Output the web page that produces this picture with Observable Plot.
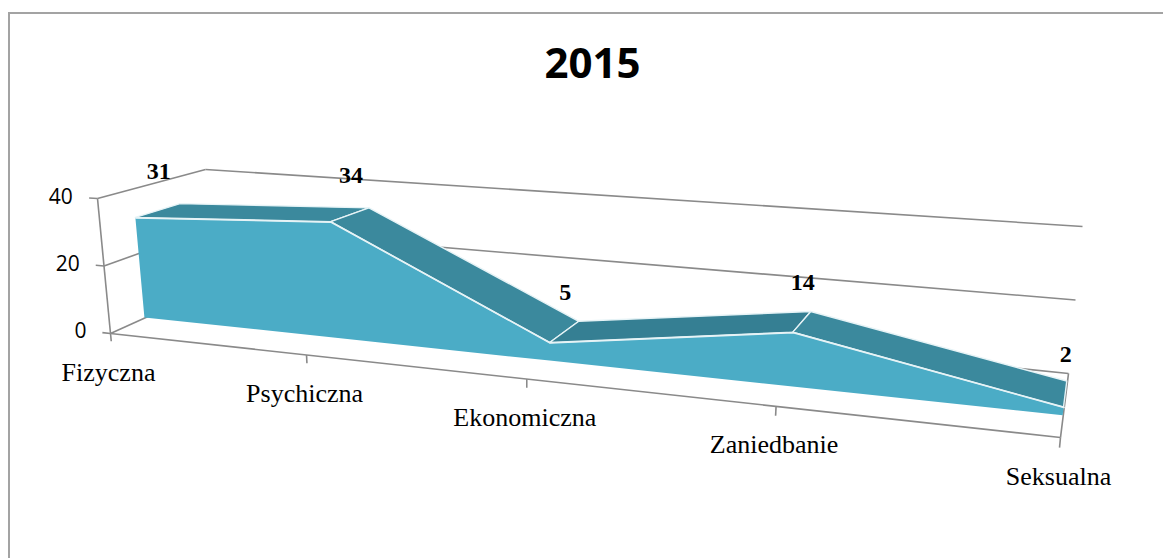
<!DOCTYPE html>
<html><head><meta charset="utf-8">
<script src="https://cdn.jsdelivr.net/npm/d3@7"></script>
<script src="https://cdn.jsdelivr.net/npm/@observablehq/plot@0.6"></script>
<style>
html,body{margin:0;padding:0;background:#fff;overflow:hidden;}
#wrap{position:relative;width:1163px;height:558px;overflow:hidden;}
#frame{position:absolute;left:8px;top:12px;width:1300px;height:700px;border-top:2px solid #a3a3a3;border-left:2px solid #a3a3a3;}
#chart{position:absolute;left:0;top:0;}
#title{position:absolute;left:0;top:41px;width:1185px;text-align:center;font:bold 42px "Open Sans";line-height:42px;color:#000;}
</style></head><body>
<div id="wrap"><div id="frame"></div><div id="chart"></div><div id="title"></div></div>
<script>
// ---- data ----
const title = "2015";
const categories = ["Fizyczna", "Psychiczna", "Ekonomiczna", "Zaniedbanie", "Seksualna"];
const values = [31, 34, 5, 14, 2];
const yTicks = [0, 20, 40];
const yMax = 40;

// ---- scales (library) ----
const uScale = Plot.scale({x: {type: "point", domain: categories, range: [0, 1], padding: 0}});
const vScale = Plot.scale({y: {type: "linear", domain: [0, yMax], range: [0, 1]}});

// ---- 3D perspective of the plot box (a: categories, b: values, c: depth) ----
const box = {
  "000": [110, 333], "010": [97, 198], "001": [214, 286], "011": [205, 169],
  "100": [1060, 437], "110": [1077, 262], "101": [1068, 373], "111": [1082, 226]
};
const depthZ = {"00": 1, "01": 1.154, "10": 0.78, "11": 0.934};
function P(a, b, c) {
  let nx = 0, ny = 0, d = 0;
  for (const i of [0, 1]) for (const j of [0, 1]) for (const k of [0, 1]) {
    const wt = (i ? a : 1 - a) * (j ? b : 1 - b) * (k ? c : 1 - c);
    const z = depthZ[`${i}${k}`];
    const s = box[`${i}${j}${k}`];
    nx += wt * z * s[0]; ny += wt * z * s[1]; d += wt * z;
  }
  return [nx / d, ny / d];
}
const w1 = 0.3, w2 = 0.72, wMid = (w1 + w2) / 2;

const pts = categories.map((c, i) => ({cat: c, value: values[i], a: uScale.apply(c), b: vScale.apply(values[i])}));

// grid / frame lines
const lines = [];
function seg(p, q, kind) { lines.push({x1: p[0], y1: p[1], x2: q[0], y2: q[1], kind}); }
for (const t of yTicks) {
  const b = vScale.apply(t);
  seg(P(0, b, 0), P(0, b, 1), "grid");
  seg(P(0, b, 1), P(1, b, 1), "grid");
  seg(P(0, b, 0), P(-0.011, b, 0), "tick");
}
seg(P(0, 0, 0), P(0, 1, 0), "axis");
seg(P(0, 0, 0), P(1, 0, 0), "axis");
seg(P(1, 0, 0), P(1, 0, 1), "axis");
for (const p of pts) seg(P(p.a, 0, 0), P(p.a, vScale.apply(-2.3), 0), "tick");

// front face
const front = pts.map(p => {
  const lo = P(p.a, 0, w1), hi = P(p.a, p.b, w1);
  return {x1: lo[0], y1: lo[1], x2: hi[0], y2: hi[1]};
});
// top faces
const tops = [];
for (let i = 0; i < pts.length - 1; i++) {
  const rising = values[i + 1] - values[i] > 4;
  const col = rising ? "#357f93" : "#3b899d";
  for (const p of [pts[i], pts[i + 1]]) {
    const f = P(p.a, p.b, w1), bk = P(p.a, p.b, w2);
    tops.push({seg: i, x1: f[0], y1: f[1], x2: bk[0], y2: bk[1], color: col});
  }
}
// right end cap
const last = pts[pts.length - 1];
const cap = [0, last.b].map(b => {
  const f = P(last.a, b, w1), bk = P(last.a, b, w2);
  return {x1: f[0], y1: f[1], x2: bk[0], y2: bk[1]};
});
const frontTop = pts.map(p => { const q = P(p.a, p.b, w1); return {x: q[0], y: q[1]}; });

const dataLabels = pts.map(p => { const q = P(p.a, p.b, wMid); return {x: q[0], y: q[1], text: String(p.value)}; });
const catLabels = pts.map(p => { const q = P(p.a, 0, 0); return {x: q[0], y: q[1], text: p.cat}; });
const yLabels = yTicks.map(t => { const q = P(-0.0325, vScale.apply(t), 0); return {x: q[0], y: q[1], text: String(t)}; });

const chart = Plot.plot({
  width: 1163, height: 558, margin: 0,
  x: {type: "identity", axis: null},
  y: {type: "identity", axis: null},
  color: {type: "identity"},
  style: {background: "transparent"},
  marks: [
    Plot.link(lines, {x1: "x1", y1: "y1", x2: "x2", y2: "y2", stroke: "#8a8a8a", strokeWidth: 1.6}),
    Plot.area(cap, {x1: "x1", y1: "y1", x2: "x2", y2: "y2", fill: "#3b899d"}),
    Plot.area(front, {x1: "x1", y1: "y1", x2: "x2", y2: "y2", fill: "#4bacc6"}),
    Plot.area(tops, {x1: "x1", y1: "y1", x2: "x2", y2: "y2", z: "seg", fill: "color", stroke: "#e6f3f6", strokeWidth: 1.4, strokeLinejoin: "round"}),
    Plot.line(frontTop, {x: "x", y: "y", stroke: "#e6f3f6", strokeWidth: 1.6}),
    Plot.text(yLabels, {x: "x", y: "y", text: "text", textAnchor: "end", lineAnchor: "middle", fontFamily: "Open Sans", fontSize: 21, fill: "#000"}),
    Plot.text(catLabels, {x: "x", y: "y", text: "text", dx: -2, dy: 47, textAnchor: "middle", lineAnchor: "bottom", fontFamily: "Liberation Serif", fontSize: 26, fill: "#000"}),
    Plot.text(dataLabels, {x: "x", y: "y", text: "text", dy: -40, textAnchor: "middle", lineAnchor: "middle", fontFamily: "Liberation Serif", fontWeight: "bold", fontSize: 24, fill: "#000"})
  ]
});
document.getElementById("chart").appendChild(chart);
document.getElementById("title").textContent = title;
</script>
</body></html>
